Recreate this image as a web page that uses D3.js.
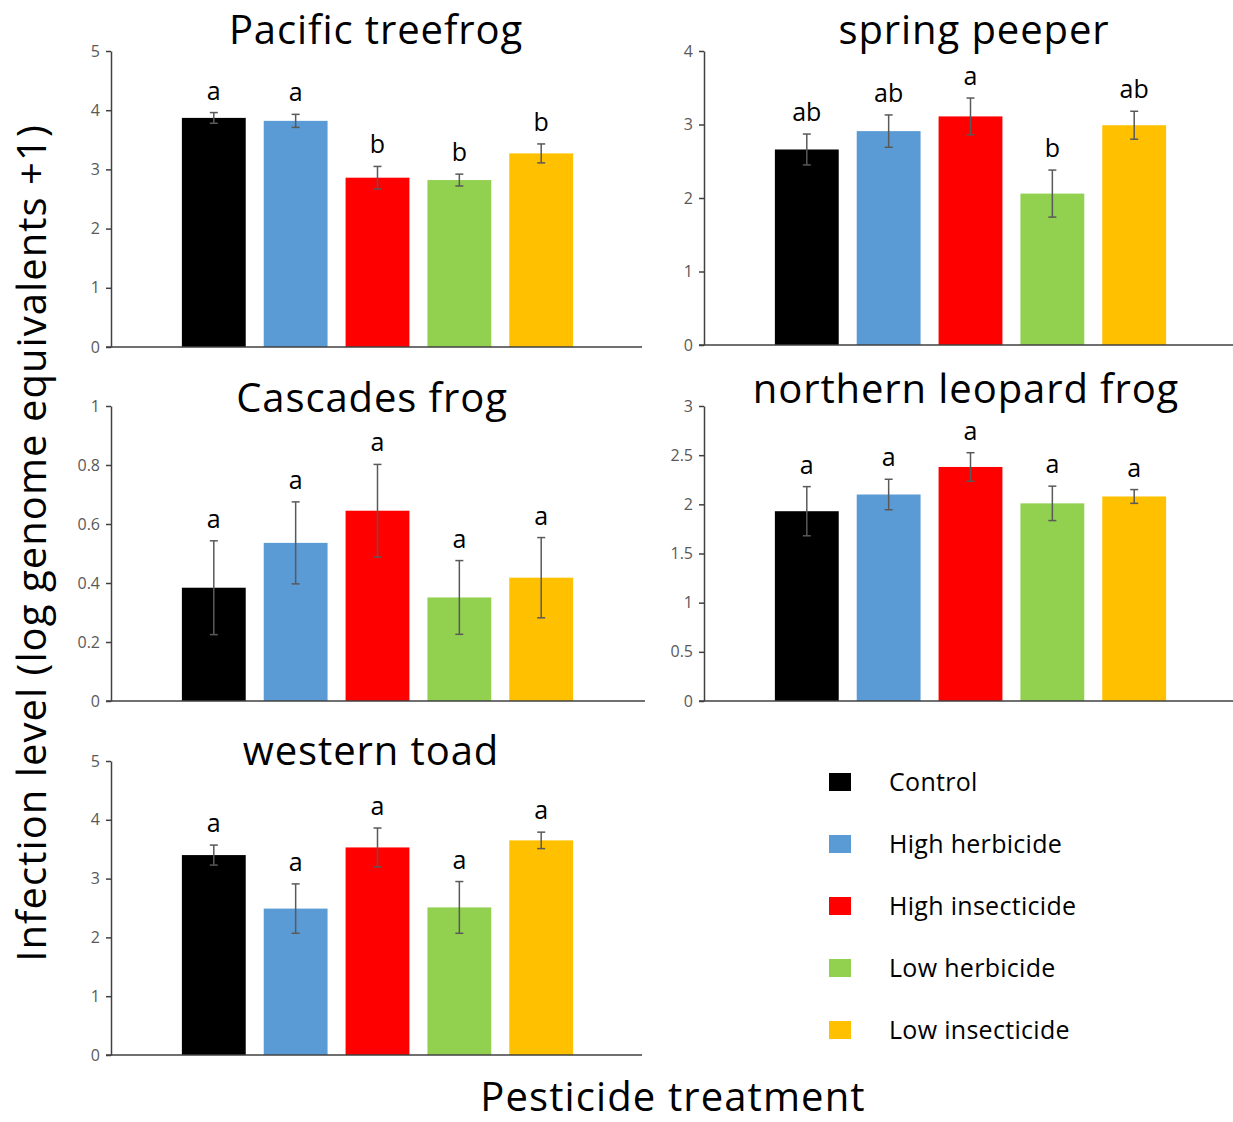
<!DOCTYPE html>
<html>
<head>
<meta charset="utf-8">
<script src="https://cdn.jsdelivr.net/npm/d3@7"></script>
<style>
  body { margin: 0; background: #fff; }
  svg { font-family: "Open Sans", Lato, sans-serif; }
</style>
</head>
<body>
<div id="chart"></div>
<script>
const WIDTH = 1233;
const HEIGHT = 1122;

const categories = ["Control", "High herbicide", "High insecticide", "Low herbicide", "Low insecticide"];
const colors = ["#000000", "#5B9BD5", "#FF0000", "#92D050", "#FFC000"];

const species = ["Pacific treefrog", "spring peeper", "Cascades frog", "northern leopard frog", "western toad"];

// means, standard errors and group letters
const treefrogMeans = [3.87, 3.82, 2.86, 2.82, 3.27];
const treefrogErrors = [0.09, 0.11, 0.19, 0.10, 0.16];
const treefrogLetters = ["a", "a", "b", "b", "b"];

const peeperMeans = [2.66, 2.91, 3.11, 2.06, 2.99];
const peeperErrors = [0.21, 0.22, 0.25, 0.32, 0.19];
const peeperLetters = ["ab", "ab", "a", "b", "ab"];

const cascadesMeans = [0.384, 0.536, 0.645, 0.351, 0.418];
const cascadesErrors = [0.159, 0.139, 0.157, 0.125, 0.136];
const cascadesLetters = ["a", "a", "a", "a", "a"];

const leopardMeans = [1.93, 2.10, 2.38, 2.01, 2.08];
const leopardErrors = [0.25, 0.155, 0.145, 0.175, 0.07];
const leopardLetters = ["a", "a", "a", "a", "a"];

const toadMeans = [3.40, 2.49, 3.53, 2.51, 3.65];
const toadErrors = [0.17, 0.42, 0.33, 0.44, 0.14];
const toadLetters = ["a", "a", "a", "a", "a"];

const treefrogTicks = [0, 1, 2, 3, 4, 5];
const peeperTicks = [0, 1, 2, 3, 4];
const cascadesTicks = [0, 0.2, 0.4, 0.6, 0.8, 1];
const leopardTicks = [0, 0.5, 1, 1.5, 2, 2.5, 3];
const toadTicks = [0, 1, 2, 3, 4, 5];

const series = [
    { means: treefrogMeans, errors: treefrogErrors, letters: treefrogLetters, ticks: treefrogTicks },
    { means: peeperMeans, errors: peeperErrors, letters: peeperLetters, ticks: peeperTicks },
    { means: cascadesMeans, errors: cascadesErrors, letters: cascadesLetters, ticks: cascadesTicks },
    { means: leopardMeans, errors: leopardErrors, letters: leopardLetters, ticks: leopardTicks },
    { means: toadMeans, errors: toadErrors, letters: toadLetters, ticks: toadTicks }
];

// panel boxes on the page
const layout = [
    { left: 111, right: 644, axisEnd: 642, top: 51, bottom: 347, titleX: 376, titleY: 44 },
    { left: 704, right: 1237, axisEnd: 1240, top: 51, bottom: 345, titleX: 974, titleY: 44 },
    { left: 111, right: 644, axisEnd: 645, top: 406, bottom: 701, titleX: 372, titleY: 412 },
    { left: 704, right: 1237, axisEnd: 1240, top: 406, bottom: 701, titleX: 966, titleY: 403 },
    { left: 111, right: 644, axisEnd: 642, top: 761, bottom: 1055, titleX: 371, titleY: 765 }
];

const svg = d3.select("#chart")
    .append("svg")
        .attr("width", WIDTH)
        .attr("height", HEIGHT)

series.forEach((s, i) => {
    const box = layout[i];
    const g = svg.append("g");

    const x = d3.scaleBand()
        .domain(categories)
        .range([box.left, box.right])
        .paddingInner(0.22)
        .paddingOuter(0.866)

    const y = d3.scaleLinear()
        .domain([0, d3.max(s.ticks)])
        .range([box.bottom, box.top])

    const yAxis = g.append("g")
        .attr("transform", `translate(${box.left},0)`)
        .call(d3.axisLeft(y).tickValues(s.ticks).tickSize(5).tickSizeOuter(0).tickFormat(d3.format("")))
    yAxis.select(".domain").attr("stroke", "#404040").attr("stroke-width", 1.5)
    yAxis.selectAll(".tick line").attr("stroke", "#404040").attr("stroke-width", 1.5)
    yAxis.selectAll(".tick text")
        .attr("fill", "#595959")
        .attr("font-size", 16)
        .attr("font-family", "Open Sans")
        .attr("x", -11)

    const data = categories.map((c, j) => ({ cat: c, mean: s.means[j], err: s.errors[j], letter: s.letters[j], color: colors[j] }));

    g.selectAll("rect.bar")
        .data(data)
        .enter()
        .append("rect")
            .attr("class", "bar")
            .attr("x", d => x(d.cat))
            .attr("y", d => y(d.mean))
            .attr("width", x.bandwidth())
            .attr("height", d => y(0) - y(d.mean))
            .attr("fill", d => d.color)

    g.append("line")
        .attr("x1", box.left - 5)
        .attr("x2", box.axisEnd)
        .attr("y1", y(0))
        .attr("y2", y(0))
        .attr("stroke", "#404040")
        .attr("stroke-width", 1.5)

    const cx = d => x(d.cat) + x.bandwidth() / 2;
    const err = g.selectAll("g.err")
        .data(data)
        .enter()
        .append("g")
            .attr("class", "err")
            .attr("stroke", "#595959")
            .attr("stroke-width", 1.5)
    err.append("line")
        .attr("x1", cx).attr("x2", cx)
        .attr("y1", d => y(d.mean + d.err))
        .attr("y2", d => y(d.mean - d.err))
    err.append("line")
        .attr("x1", d => cx(d) - 4).attr("x2", d => cx(d) + 4)
        .attr("y1", d => y(d.mean + d.err)).attr("y2", d => y(d.mean + d.err))
    err.append("line")
        .attr("x1", d => cx(d) - 4).attr("x2", d => cx(d) + 4)
        .attr("y1", d => y(d.mean - d.err)).attr("y2", d => y(d.mean - d.err))

    g.selectAll("text.letter")
        .data(data)
        .enter()
        .append("text")
            .attr("class", "letter")
            .attr("x", cx)
            .attr("y", d => y(d.mean + d.err) - 13)
            .attr("text-anchor", "middle")
            .attr("font-size", 25)
            .attr("fill", "#000")
            .text(d => d.letter)

    g.append("text")
        .attr("x", box.titleX)
        .attr("y", box.titleY)
        .attr("text-anchor", "middle")
        .attr("font-size", 40)
        .attr("letter-spacing", 0.9)
        .attr("fill", "#000")
        .text(species[i])
})

// legend
const legend = svg.append("g")
const ly = d3.scalePoint().domain(categories).range([782, 1030])
legend.selectAll("rect")
    .data(categories)
    .enter()
    .append("rect")
        .attr("x", 829)
        .attr("y", d => ly(d) - 9)
        .attr("width", 22)
        .attr("height", 18)
        .attr("fill", (d, i) => colors[i])
legend.selectAll("text")
    .data(categories)
    .enter()
    .append("text")
        .attr("x", 889)
        .attr("y", d => ly(d))
        .attr("dy", "0.35em")
        .attr("font-size", 25)
        .attr("letter-spacing", 0.3)
        .attr("fill", "#000")
        .text(d => d)

svg.append("text")
    .attr("transform", "translate(46,543) rotate(-90)")
    .attr("text-anchor", "middle")
    .attr("font-size", 40)
    .attr("letter-spacing", 1.05)
    .attr("fill", "#000")
    .text("Infection level (log genome equivalents +1)")

svg.append("text")
    .attr("x", 673)
    .attr("y", 1111)
    .attr("text-anchor", "middle")
    .attr("font-size", 40)
    .attr("letter-spacing", 1.1)
    .attr("fill", "#000")
    .text("Pesticide treatment")
</script>
</body>
</html>
